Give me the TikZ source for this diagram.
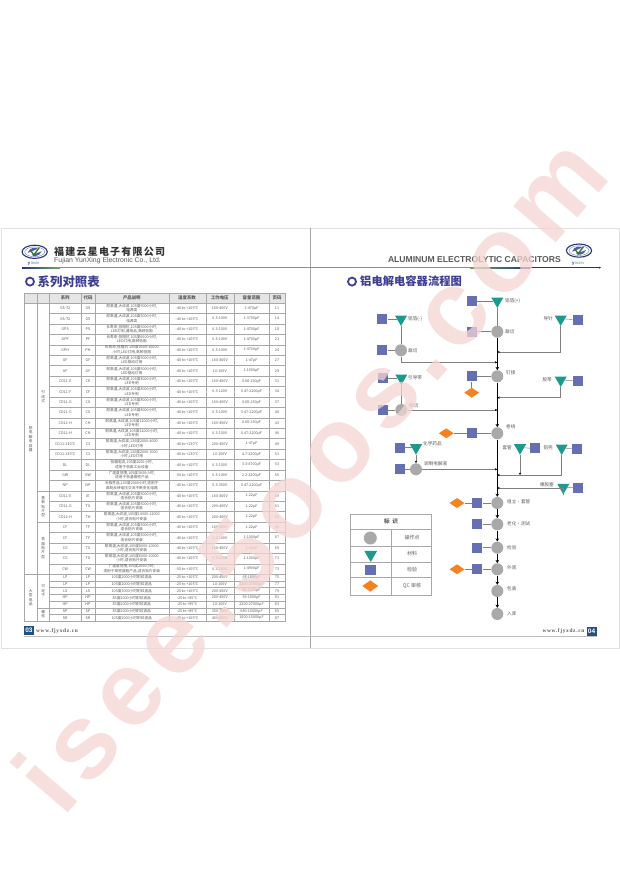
\documentclass[tikz,border=0pt]{standalone}
\usepackage{fontspec}
\usetikzlibrary{shapes.geometric,arrows.meta}
\setmainfont{Liberation Sans}
\newfontfamily\cjk{Noto Sans CJK SC}
\newfontfamily\cjkls{Noto Sans CJK SC}[LetterSpace=12]
\newfontfamily\serifls{Liberation Serif}[LetterSpace=12]
\newfontfamily\wmfont{Liberation Sans}[LetterSpace=9]
\definecolor{ink}{HTML}{5A5A5A}
\definecolor{tline}{HTML}{A8A8A8}
\definecolor{opgray}{HTML}{A9A9A9}
\definecolor{matgreen}{HTML}{1E9A8C}
\definecolor{insp}{HTML}{6470B2}
\definecolor{qcor}{HTML}{F58220}
\definecolor{navy}{HTML}{26367E}
\definecolor{ttl}{HTML}{3E3E94}
\definecolor{wm}{HTML}{F3D5D2}
\definecolor{rulegreen}{HTML}{6DAA55}
\definecolor{boxblue}{HTML}{24507F}
\tikzset{
 tc/.style={font=\cjk\fontsize{3.7}{4.4}\selectfont,text=ink,align=center,inner sep=0pt},
 th/.style={font=\cjk\bfseries\fontsize{4.4}{5}\selectfont,text=ink,inner sep=0pt},
 tl/.style={draw=tline,line width=.35pt},
 opc/.style={circle,fill=opgray,minimum size=12pt,inner sep=0pt},
 mat/.style={regular polygon,regular polygon sides=3,shape border rotate=180,fill=matgreen,minimum size=14pt,inner sep=0pt},
 ins/.style={rectangle,fill=insp,minimum size=10pt,inner sep=0pt},
 qc/.style={diamond,fill=qcor,minimum width=15pt,minimum height=10pt,inner sep=0pt},
 lab/.style={font=\cjk\fontsize{4.6}{5}\selectfont,text=ink,inner sep=0pt},
 thin conn/.style={draw=gray,line width=.5pt},
 arr conn/.style={draw=gray,line width=.5pt,-{Stealth[length=2.4pt,width=2.4pt,color=black]}},
 spine/.style={draw=black,line width=1.1pt,-{Stealth[length=3.2pt,width=3.6pt]}},
 logoell/.style={draw=navy,line width=1.1pt,fill=white},
 pagebox/.style={fill=boxblue,text=white,font=\bfseries\fontsize{6.5}{7}\selectfont,minimum width=10pt,minimum height=9pt,inner sep=0pt},
 webtext/.style={font=\serifls\bfseries\fontsize{5.4}{6}\selectfont,text=ink,inner sep=0pt},
}
\newcount\rc
\def\ry{303}
\newcommand\tr[8]{%
 \pgfmathsetmacro\yc{\ry+#1/2}\pgfmathsetmacro\yn{\ry+#1}%
 \global\advance\rc by 1
 \node[tc] (r\the\rc a) at (65.2,\yc) {#2};
 \node[tc] (r\the\rc b) at (88,\yc) {#3};
 \node[tc] (r\the\rc c) at (131.8,\yc) {#4};
 \node[tc] (r\the\rc d) at (187,\yc) {#5};
 \node[tc] (r\the\rc e) at (219.8,\yc) {#6};
 \node[tc] (r\the\rc f) at (251.5,\yc) {#7};
 \node[tc] (r\the\rc g) at (277,\yc) {#8};
 \draw[tl] (49.5,\yn)--(285,\yn);
 \xdef\ry{\yn}}
\newcommand\logo[4]{%
 \draw[logoell] (#1,#2) ellipse (12.6pt and 6.6pt);
 \draw[navy!70,line width=.35pt] (#1,#2) ellipse (10pt and 4.9pt);
 \fill[insp!70!navy] (#1-7,#2+1) .. controls (#1-5,#2-5) and (#1+2,#2-5) .. (#1+3,#2-3) .. controls (#1,#2-2) and (#1-3,#2) .. (#1-7,#2+1);
 \fill[insp!70!navy] (#1+7,#2-.5) .. controls (#1+5,#2+5) and (#1-2,#2+5) .. (#1-3,#2+3) .. controls (#1,#2+2) and (#1+3,#2+1) .. (#1+7,#2-.5);
 \draw[rulegreen!70!green!60!black,line width=1.3pt] (#1-3.5,#2-.5) -- (#1-.8,#2+3) -- (#1+4.5,#2-4);
 \node[font=\fontsize{4.2}{5}\selectfont,text=navy,inner sep=0pt] (#4) at (#1-1,#3) {\textbf{y}\,\textcolor{matgreen!60!gray}{inxin}};}
\begin{document}
\begin{tikzpicture}[x=1pt,y=-1pt]
\useasboundingbox (0,0) rectangle (620,877);
\fill[white] (0,0) rectangle (620,877);
% pages
\draw[draw=black!12,line width=.5pt] (1,228) rectangle (619.5,648);
\draw[draw=black!35,line width=.6pt] (310,228) -- (310,648);
% header rule
\shade[left color=navy,right color=rulegreen] (22,267) rectangle (60,268.4);
\fill[rulegreen] (60,267) rectangle (470,268.4);
\shade[left color=rulegreen,right color=navy] (470,267) rectangle (530,268.4);
\fill[navy] (530,267) rectangle (592,268.4);
\draw[navy,line width=.5pt,-{Stealth[length=2pt,width=2pt]}] (590,267.7) -- (601,267.7);
\logo{34.7}{251.8}{263}{logoL}
\logo{579}{250.6}{263}{logoR}
\node[font=\cjkls\bfseries\fontsize{10}{11}\selectfont,text=black!80,anchor=west,inner sep=0pt] (cn) at (54,252) {福建云星电子有限公司};
\node[font=\fontsize{6.9}{8}\selectfont,text=ink,anchor=west,inner sep=0pt] (en) at (54,261) {Fujian YunXing Electronic Co., Ltd.};
\node[font=\bfseries\fontsize{8.6}{9}\selectfont,text=ink,anchor=east,inner sep=0pt] (al) at (561,260) {ALUMINUM ELECTROLYTIC CAPACITORS};
% section titles
\draw[ttl,line width=1.8pt] (30,281.6) circle (4pt);
\node[font=\cjk\bfseries\fontsize{12.4}{13}\selectfont,text=ttl,anchor=west,inner sep=0pt] (t1) at (37.5,281.5) {系列对照表};
\draw[ttl,line width=1.8pt] (352,281.6) circle (4pt);
\node[font=\cjk\bfseries\fontsize{11.3}{12}\selectfont,text=ttl,anchor=west,inner sep=0pt] (t2) at (360,281.5) {铝电解电容器流程图};
% table
\fill[black!10] (24.5,293) rectangle (285,303);
\draw[tl] (24.5,293) rectangle (285,621);
\foreach \xx in {49.5,81,95,169,205.7,234,269}{\draw[tl] (\xx,293)--(\xx,621);}
\draw[tl] (37,293)--(37,621);
\draw[tl] (24.5,303)--(285,303);
\draw[tl] (24.5,574.2)--(49.5,574.2);
\draw[tl] (37,491)--(49.5,491) (37,522.2)--(49.5,522.2) (37,607.7)--(49.5,607.7);
\node[th] (h1) at (65.2,298) {系列};
\node[th] (h2) at (88,298) {代码};
\node[th] (h3) at (131.8,298) {产品说明};
\node[th] (h4) at (187,298) {温度系数};
\node[th] (h5) at (219.8,298) {工作电压};
\node[th] (h6) at (251.5,298) {容量范围};
\node[th] (h7) at (277,298) {页码};
\node[tc] (v1) at (30.7,439) {铝\\电\\解\\电\\容\\器};
\node[tc] (v2) at (43.2,397) {引\\线\\式};
\node[tc] (v3) at (43.2,506.6) {基\\板\\贴\\片\\型};
\node[tc] (v4) at (43.2,548) {表\\面\\贴\\片\\型};
\node[tc] (v5) at (30.7,597.5) {大\\型\\电\\品};
\node[tc] (v6) at (43.2,591) {可\\定\\子};
\node[tc] (v7) at (43.2,614.3) {螺\\栓};
\def\hh{10.43}
\def\tA{-40 to +105℃}
\tr{\hh}{GS-T2}{GS}{耐高温,大纹波,105度5000小时,\\电源类}{\tA}{160-400V}{1-470μF}{11}
\tr{\hh}{GS-T2}{GS}{耐高温,大纹波,105度5000小时,\\电源类}{\tA}{6.3-100V}{1-3700μF}{14}
\tr{\hh}{GPS}{PS}{长寿命,低阻抗,105度5000小时,\\LED灯用,通用品,高频低阻}{\tA}{6.3-100V}{1-4700μF}{18}
\tr{\hh}{GPF}{PF}{长寿命,低阻抗 105度6000小时,\\LED灯用,高频低阻}{\tA}{6.3-100V}{1-4700μF}{21}
\tr{\hh}{GPH}{PH}{长寿命,低阻抗 105度8000-10000\\小时,LED灯用,高频低阻}{\tA}{6.3-100V}{1-4700μF}{24}
\tr{\hh}{GF}{GF}{耐高温,大纹波,105度5000小时,\\LED驱动灯用}{\tA}{160-400V}{1-47μF}{27}
\tr{\hh}{GF}{GF}{耐高温,大纹波,105度5000小时,\\LED驱动灯用}{\tA}{10-100V}{1-1000μF}{29}
\tr{\hh}{CD11-E}{CE}{耐高温,大纹波,105度8000小时,\\LED专用}{\tA}{160-450V}{0.68-150μF}{31}
\tr{\hh}{CD11-F}{CF}{耐高温,大纹波,105度8000小时,\\LED专用}{\tA}{6.3-120V}{0.47-2200μF}{34}
\tr{\hh}{CD11-G}{CG}{耐高温,大纹波,105度8000小时,\\LED专用}{\tA}{160-450V}{0.68-150μF}{37}
\tr{\hh}{CD11-G}{CG}{耐高温,大纹波,105度8000小时,\\LED专用}{\tA}{6.3-100V}{0.47-2200μF}{40}
\tr{\hh}{CD11-H}{CH}{耐高温,大纹波,105度12000小时,\\LED专用}{\tA}{160-450V}{0.68-150μF}{43}
\tr{\hh}{CD11-H}{CH}{耐高温,大纹波,105度12000小时,\\LED专用}{\tA}{6.3-100V}{0.47-2200μF}{46}
\tr{\hh}{CD11-130℃}{C3}{耐高温,大纹波,130度2000-4000\\小时,LED灯用}{-40 to +130℃}{200-450V}{1-47μF}{49}
\tr{\hh}{CD11-130℃}{C3}{耐高温,大纹波,130度2000-3000\\小时,LED灯用}{-40 to +130℃}{10-100V}{4.7-2200μF}{51}
\tr{\hh}{DL}{DL}{低漏电流,105度2000小时,\\适用于低高工业设备}{\tA}{6.3-100V}{3.3-4700μF}{53}
\tr{\hh}{GW}{GW}{广温度范围,105度3000小时,\\适用于低温精密产品}{-50 to +105℃}{6.3-100V}{2.2-2200μF}{55}
\tr{\hh}{NP}{NP}{无极性品,105度2000小时,适用于\\高耗反转电压交流不断变化电路}{\tA}{6.3-350V}{0.47-2200μF}{57}
\tr{\hh}{CD11-E}{IE}{耐高温,大纹波,105度5000小时,\\适合贴片安装}{\tA}{160-400V}{1-22μF}{59}
\tr{\hh}{CD11-G}{TG}{耐高温,大纹波,105度5000小时,\\适合贴片安装}{\tA}{200-400V}{1-22μF}{61}
\tr{\hh}{CD11-H}{TH}{耐高温,大纹波,105度10000-12000\\小时,适合贴片安装}{\tA}{200-400V}{1-22μF}{63}
\tr{\hh}{CF}{TF}{耐高温,大纹波,105度5000小时,\\适合贴片安装}{\tA}{160-450V}{1-22μF}{65}
\tr{\hh}{CF}{TF}{耐高温,大纹波,105度5000小时,\\适合贴片安装}{\tA}{6.3-100V}{1-1000μF}{67}
\tr{\hh}{CG}{TG}{耐高温,大纹波,105度8000-10000\\小时,适合贴片安装}{\tA}{160-450V}{1-22μF}{69}
\tr{\hh}{CG}{TG}{耐高温,大纹波,105度8000-10000\\小时,适合贴片安装}{\tA}{6.3-100V}{1-1000μF}{71}
\tr{\hh}{CW}{CW}{广温度范围,105度2000小时,\\适用于高密度粗产品,适合贴片安装}{-55 to +105℃}{6.3-100V}{1-4900μF}{73}
\def\hs{6.7}
\tr{\hs}{LP}{LP}{105度2000小时耐纹波品}{-25 to +105℃}{200-450V}{68-1800μF}{75}
\tr{\hs}{LP}{LP}{105度2000小时耐纹波品}{-25 to +105℃}{10-100V}{2200-47000μF}{77}
\tr{\hs}{LS}{LS}{105度3000小时耐纹波品}{-25 to +105℃}{200-450V}{82-1500μF}{79}
\tr{\hs}{HP}{HP}{85度2000小时耐纹波品}{-25 to +85℃}{200-450V}{56-1800μF}{81}
\tr{\hs}{HP}{HP}{85度2000小时耐纹波品}{-25 to +85℃}{10-100V}{2200-27000μF}{83}
\tr{\hs}{SP}{SP}{85度2000小时耐纹波品}{-25 to +85℃}{350-700V}{680-10000μF}{85}
\tr{\hs}{SR}{SR}{105度2000小时耐纹波品}{-25 to +105℃}{400-450V}{1800-15000μF}{87}
% flow: spine nodes
\def\sx{497.3}
\node[mat] (top) at (\sx,301) {};
\node[ins] (topS) at (471.7,301) {};
\node[lab,anchor=west] (topL) at (505,301) {铝箔(+)};
\node[opc] (c1) at (\sx,331.7) {};
\node[ins] (c1S) at (471.7,331.7) {};
\node[lab,anchor=west] (c1L) at (505,332) {裁切};
\node[opc] (c2) at (\sx,376.3) {};
\node[ins] (c2S) at (471.7,376.3) {};
\node[qc] (c2Q) at (471.7,392.7) {};
\node[lab,anchor=west] (c2L) at (506,373) {钉接};
\node[opc] (c3) at (\sx,433.3) {};
\node[ins] (c3S) at (471.7,433.3) {};
\node[qc] (c3Q) at (446.3,433.3) {};
\node[lab,anchor=west] (c3L) at (506,427) {卷绕};
\node[opc] (c4) at (\sx,503) {};
\node[ins] (c4S) at (477.3,503) {};
\node[qc] (c4Q) at (457,503) {};
\node[lab,anchor=west] (c4L) at (507,502) {组立·套管};
\node[opc] (c5) at (\sx,524.3) {};
\node[ins] (c5S) at (477.3,524.3) {};
\node[lab,anchor=west] (c5L) at (507,524) {老化·测试};
\node[opc] (c6) at (\sx,547.7) {};
\node[ins] (c6S) at (477.3,547.7) {};
\node[lab,anchor=west] (c6L) at (507,547.7) {检验};
\node[opc] (c7) at (\sx,569.3) {};
\node[ins] (c7S) at (477.3,569.3) {};
\node[qc] (c7Q) at (457,569.3) {};
\node[lab,anchor=west] (c7L) at (507,568) {外观};
\node[opc] (c8) at (\sx,591) {};
\node[lab,anchor=west] (c8L) at (507,589) {包装};
\node[opc] (c9) at (\sx,614) {};
\node[lab,anchor=west] (c9L) at (507,614) {入库};
% left branches
\node[mat] (a1) at (401,319) {};
\node[ins] (a1S) at (382.3,319) {};
\node[lab,anchor=west] (a1L) at (408,319.5) {铝箔(-)};
\node[opc] (a2) at (401,350.3) {};
\node[ins] (a2S) at (382.3,350.3) {};
\node[lab,anchor=west] (a2L) at (408,350.5) {裁切};
\node[mat] (b1) at (401.3,378) {};
\node[ins] (b1S) at (382.7,378) {};
\node[lab,anchor=west] (b1L) at (408,378) {引导带};
\node[opc] (b2) at (401.3,410) {};
\node[ins] (b2S) at (382.7,410) {};
\node[lab,anchor=west] (b2L) at (409,405.5) {铆切};
\node[mat] (d1) at (416,447.7) {};
\node[ins] (d1S) at (400,447.7) {};
\node[lab,anchor=west] (d1L) at (423,444) {化学药品};
\node[opc] (d2) at (416,469.3) {};
\node[ins] (d2S) at (400,469.3) {};
\node[lab,anchor=west] (d2L) at (424,463.3) {调制电解液};
% right branches
\node[mat] (e1) at (560.7,319) {};
\node[ins] (e1S) at (577.7,319.5) {};
\node[lab,anchor=east] (e1L) at (553,319) {导针};
\node[mat] (f1) at (560.7,380) {};
\node[ins] (f1S) at (577.7,380.8) {};
\node[lab,anchor=east] (f1L) at (552,380) {胶带};
\node[mat] (g1) at (520,447.7) {};
\node[ins] (g1S) at (535,448.3) {};
\node[lab,anchor=east] (g1L) at (512,447.7) {套管};
\node[mat] (h1f) at (561.7,448) {};
\node[ins] (h1S) at (576.7,448.8) {};
\node[lab,anchor=east] (h1L) at (553,448) {铝壳};
\node[mat] (i1) at (563.3,487.3) {};
\node[ins] (i1S) at (578.3,488) {};
\node[lab,anchor=east] (i1L) at (554,484.5) {橡胶塞};
% junctions
\coordinate (j1) at (\sx,352);
\coordinate (j2) at (\sx,362.3);
\coordinate (j3) at (\sx,397.7);
\coordinate (j4) at (\sx,410);
\coordinate (j5) at (\sx,469.3);
\coordinate (j6) at (\sx,475);
\coordinate (j6b) at (520,475);
\coordinate (j7) at (\sx,488);
% connectors
\foreach \u/\v in {topS/top,c1S/c1,c2S/c2,c3Q/c3S,c3S/c3,c4Q/c4S,c4S/c4,c5S/c5,c6S/c6,c7Q/c7S,c7S/c7,a1S/a1,a2S/a2,b1S/b1,b2S/b2,d1S/d1,d2S/d2,e1/e1S,f1/f1S,g1/g1S,h1f/h1S,i1/i1S,c2S/c2Q}{\draw[thin conn] (\u)--(\v);}
\draw[thin conn] (top)--(c1);
\draw[thin conn] (a1)--(a2);
\draw[thin conn] (b1)--(b2);
\draw[arr conn] (d1)--(d2);
\foreach \u/\v in {c1/c2,c2/c3,c3/c4,c4/c5,c5/c6,c6/c7,c7/c8,c8/c9}{\draw[spine] (\u)--(\v);}
\draw[arr conn] (a2) |- (j2);
\draw[arr conn] (e1) |- (j1);
\draw[arr conn] (f1) |- (j3);
\draw[arr conn] (b2) -- (j4);
\draw[arr conn] (d2) -- (j5);
\draw[arr conn] (h1f) |- (j6);
\draw[arr conn] (g1) -- (j6b);
\draw[arr conn] (i1) |- (j7);
% legend
\draw[tl] (350.3,513.7) rectangle (431.3,595);
\foreach \yy in {529,546,561.7,577.3}{\draw[tl] (350.3,\yy)--(431.3,\yy);}
\draw[tl] (391.3,529)--(391.3,595);
\node[font=\cjk\bfseries\fontsize{5.6}{6}\selectfont,text=ink,inner sep=0pt] (lgT) at (391,521) {标\ \ 识};
\node[opc,minimum size=13pt] (lg1) at (370.3,538) {};
\node[mat,minimum size=15pt] (lg2) at (370.7,554.5) {};
\node[ins,minimum size=10.5pt] (lg3) at (370.3,570) {};
\node[qc,minimum width=16pt,minimum height=11.5pt] (lg4) at (370.3,586) {};
\node[lab,font=\cjk\fontsize{5}{6}\selectfont] (lg1t) at (412,538) {操作点};
\node[lab,font=\cjk\fontsize{5}{6}\selectfont] (lg2t) at (412,554) {材料};
\node[lab,font=\cjk\fontsize{5}{6}\selectfont] (lg3t) at (412,570) {检验};
\node[lab,font=\cjk\fontsize{5}{6}\selectfont] (lg4t) at (412,586) {QC 审核};
% footer
\draw[black!25,line width=.5pt] (24,636) -- (597,636);
\node[pagebox] (p3) at (29,630) {03};
\node[pagebox] (p4) at (591.5,631.5) {04};
\node[webtext,anchor=west] (w3) at (36,631) {www.fjyxdz.cn};
\node[webtext,anchor=east] (w4) at (584.5,631.5) {www.fjyxdz.cn};
% watermark
\node[font=\wmfont\bfseries\fontsize{106}{108}\selectfont,text=wm,text opacity=.75,rotate=49.4,anchor=base west,inner sep=0pt] (wmk) at (63,819) {isee.5oos.com};
\end{tikzpicture}
\end{document}
